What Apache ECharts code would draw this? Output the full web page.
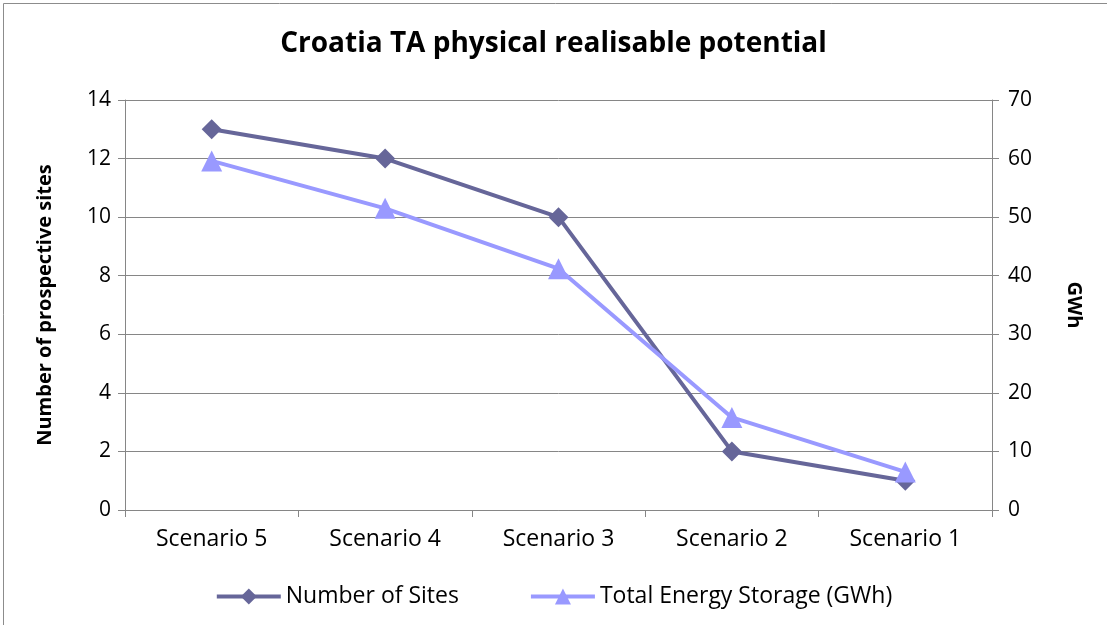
<!DOCTYPE html>
<html>
<head>
<meta charset="utf-8">
<script src="https://cdn.jsdelivr.net/npm/echarts@6/dist/echarts.min.js"></script>
<style>
  html, body { margin: 0; padding: 0; background: #fff; }
  #main { width: 1107px; height: 625px; }
</style>
</head>
<body>
<div id="main"></div>
<script>
var categories = ['Scenario 5', 'Scenario 4', 'Scenario 3', 'Scenario 2', 'Scenario 1'];
var sites = [13, 12, 10, 2, 1];
var storage = [59.6, 51.5, 41.2, 15.8, 6.5];

var chart = echarts.init(document.getElementById('main'));
var font = '"Open Sans", "Noto Sans", sans-serif';

var option = {
  animation: false,
  textStyle: { fontFamily: font },
  graphic: [{
    type: 'rect',
    shape: { x: 3.5, y: 3.5, width: 1120, height: 640 },
    style: { fill: 'none', stroke: '#8c8c8c', lineWidth: 1 }
  }],
  title: {
    text: 'Croatia TA physical realisable potential',
    left: 'center',
    top: 25,
    textStyle: { fontSize: 28, fontWeight: 'bold', color: '#000', fontFamily: font }
  },
  legend: {
    bottom: 12,
    left: 'center',
    itemWidth: 64,
    itemHeight: 20,
    itemGap: 70,
    lineStyle: { width: 4 },
    textStyle: { fontSize: 23, color: '#000', fontFamily: font },
    data: ['Number of Sites', 'Total Energy Storage (GWh)']
  },
  grid: { left: 125, right: 115, top: 100, bottom: 115 },
  xAxis: {
    type: 'category',
    data: categories,
    boundaryGap: true,
    axisLine: { lineStyle: { color: '#868686' } },
    axisTick: { show: true, length: 7, lineStyle: { color: '#868686' } },
    axisLabel: { fontSize: 23, color: '#000', margin: 18 }
  },
  yAxis: [{
    type: 'value',
    min: 0, max: 14, interval: 2,
    name: 'Number of prospective sites',
    nameLocation: 'middle',
    nameGap: 70,
    nameTextStyle: { fontSize: 20, fontWeight: 'bold', color: '#000' },
    axisLine: { show: true, lineStyle: { color: '#868686' } },
    axisTick: { show: true, length: 7, lineStyle: { color: '#868686' } },
    axisLabel: { fontSize: 21, color: '#000', margin: 14 },
    splitLine: { lineStyle: { color: '#868686' } }
  }, {
    type: 'value',
    min: 0, max: 70, interval: 10,
    name: 'GWh',
    nameLocation: 'middle',
    nameGap: 72,
    nameRotate: -90,
    nameTextStyle: { fontSize: 20, fontWeight: 'bold', color: '#000' },
    axisLine: { show: true, lineStyle: { color: '#868686' } },
    axisTick: { show: true, length: 7, lineStyle: { color: '#868686' } },
    axisLabel: { fontSize: 21, color: '#000', margin: 16 },
    splitLine: { show: false }
  }],
  series: [{
    name: 'Number of Sites',
    type: 'line',
    yAxisIndex: 0,
    data: sites,
    symbol: 'diamond',
    symbolSize: 20,
    lineStyle: { width: 4, color: '#666699' },
    itemStyle: { color: '#666699' }
  }, {
    name: 'Total Energy Storage (GWh)',
    type: 'line',
    yAxisIndex: 1,
    data: storage,
    symbol: 'triangle',
    symbolSize: 21,
    lineStyle: { width: 4, color: '#9999ff' },
    itemStyle: { color: '#9999ff' }
  }]
};
chart.setOption(option);
</script>
</body>
</html>
